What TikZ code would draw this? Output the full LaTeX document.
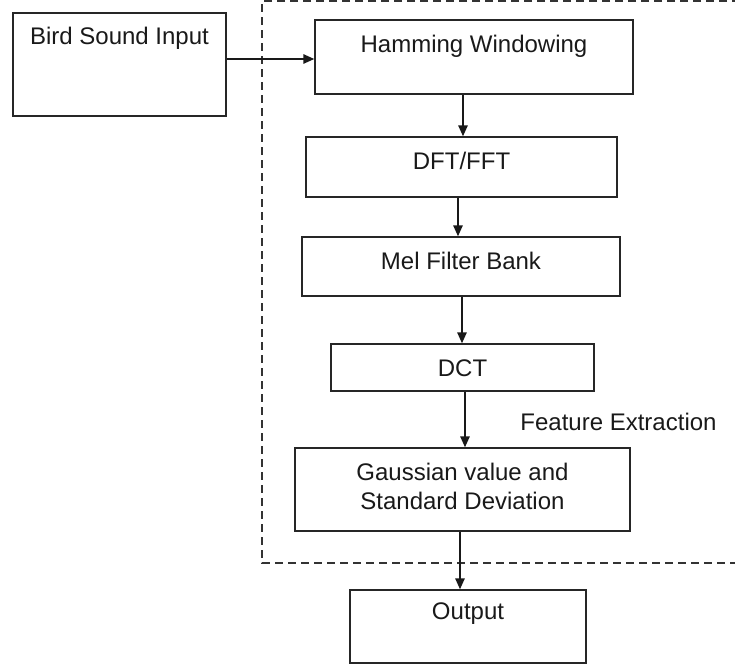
\documentclass[tikz,border=0pt]{standalone}
\usepackage{fontspec}
\setmainfont{Liberation Sans}
\usetikzlibrary{arrows.meta}
\begin{document}
\begin{tikzpicture}[x=1pt,y=-1pt,
  box/.style={draw=black!85, line width=1.5pt, minimum width=#1, inner sep=0pt},
  txt/.style={font=\fontsize{24}{29}\selectfont, align=center, inner sep=0pt, text=black!90},
  arr/.style={draw=black!90, line width=1.5pt, -{Triangle[length=11pt,width=9.5pt]}},
  frame/.style={draw=black!80, line width=1.3pt, dash pattern=on 8pt off 5pt}]
\useasboundingbox (0,0) rectangle (735,664);
% boxes
\node[box=213, minimum height=103] (bird) at (119.5,64.5) {};
\node[txt] at (119.5,38) {Bird Sound Input};
\node[box=318, minimum height=74] (ham) at (474,57) {};
\node[txt] at (474,46) {Hamming Windowing};
\node[box=311, minimum height=60] (dft) at (461.5,167) {};
\node[txt] at (461.5,161) {DFT/FFT};
\node[box=318, minimum height=59] (mel) at (461,266.5) {};
\node[txt] at (461,261) {Mel Filter Bank};
\node[box=263, minimum height=47] (dct) at (462.5,367.5) {};
\node[txt] at (462.5,368) {DCT};
\node[box=335, minimum height=83] (gauss) at (462.5,489.5) {};
\node[txt] at (462.5,486) {Gaussian value and\\Standard Deviation};
\node[box=236, minimum height=73] (out) at (468,626.5) {};
\node[txt] at (468,614) {Output};
\node[txt] (fe) at (618.5,422) {Feature Extraction};
% dashed frame
\coordinate (ftr) at (740,1);
\coordinate (ftl) at (262,1);
\coordinate (fbl) at (262,563);
\coordinate (fbr) at (740,563);
\draw[frame] (ftr) -- (ftl) -- (fbl) -- (fbr);
% connectors
\draw[arr] ([yshift=5.5pt]bird.east) -- ([yshift=5.5pt]bird.east -| ham.west);
\draw[arr] ([xshift=-11pt]ham.south) -- ([xshift=-11pt]ham.south |- dft.north);
\draw[arr] ([xshift=-3.5pt]dft.south) -- ([xshift=-3.5pt]dft.south |- mel.north);
\draw[arr] ([xshift=1pt]mel.south) -- ([xshift=1pt]mel.south |- dct.north);
\draw[arr] ([xshift=2.5pt]dct.south) -- ([xshift=2.5pt]dct.south |- gauss.north);
\draw[arr] ([xshift=-2.5pt]gauss.south) -- ([xshift=-2.5pt]gauss.south |- out.north);
\end{tikzpicture}
\end{document}
